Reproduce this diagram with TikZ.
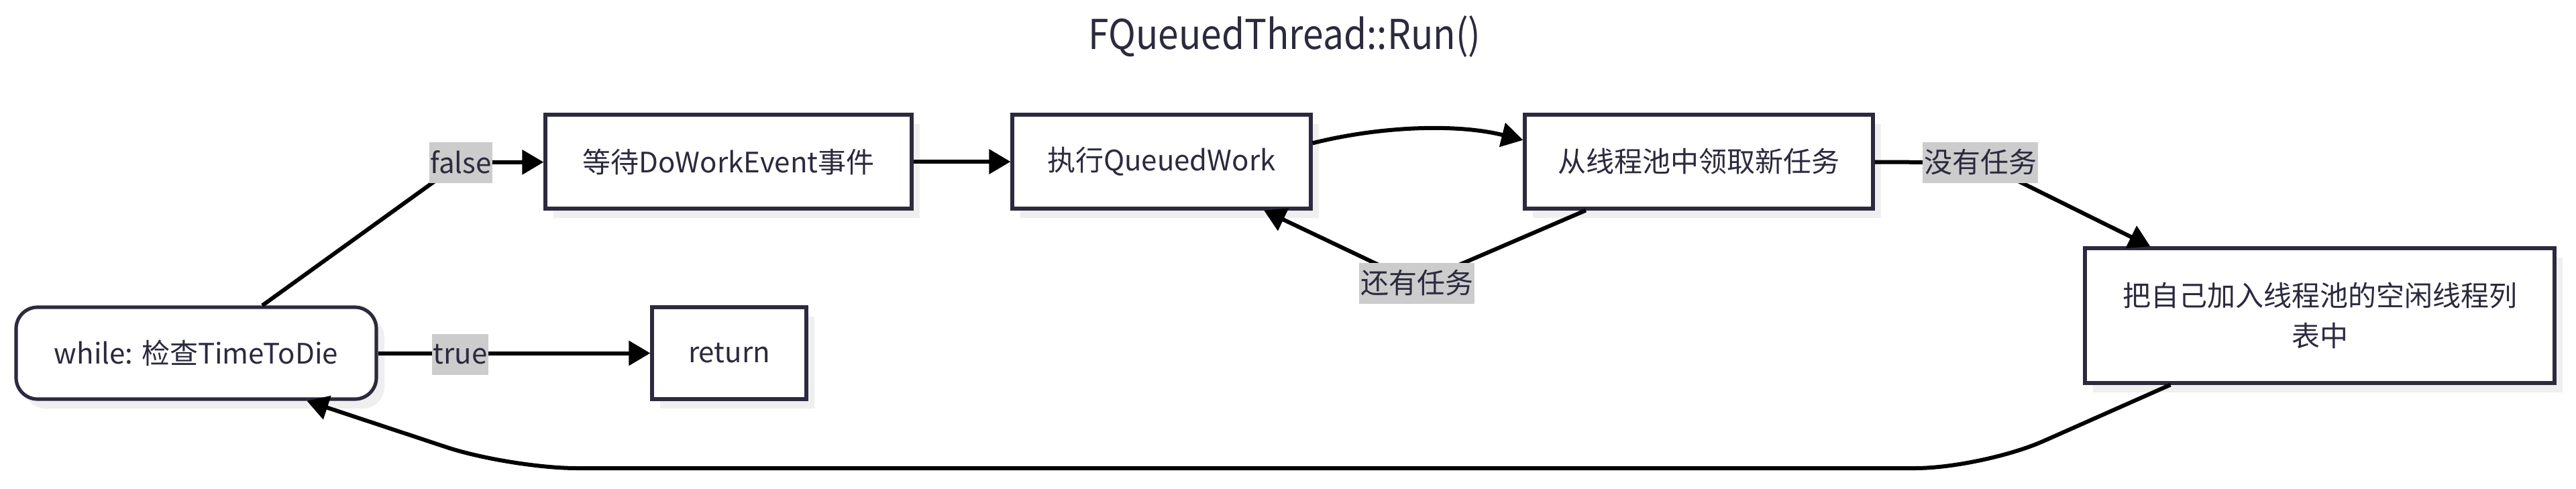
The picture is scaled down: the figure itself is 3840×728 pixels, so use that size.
\documentclass[tikz,border=0pt]{standalone}
\usepackage{fontspec}
\setmainfont{Noto Sans CJK SC}
\newfontfamily\titlefont[FakeStretch=0.9]{Noto Sans CJK SC}
\usetikzlibrary{arrows.meta,shadows,calc}
\definecolor{ink}{HTML}{2B2A3E}
\definecolor{lblgray}{HTML}{CCCCCC}
\definecolor{shade}{HTML}{EFEFEF}
\begin{document}
\begin{tikzpicture}[x=0.25pt,y=-0.25pt,
  nodefont/.style={font=\fontsize{10.5pt}{15pt}\selectfont},
  box/.style={draw=ink, line width=1.3pt, fill=white, text=ink, nodefont, inner sep=0pt,
    drop shadow={shadow xshift=3pt, shadow yshift=-3.5pt, fill=shade, opacity=1}},
  lbl/.style={fill=lblgray, text=ink, nodefont, inner xsep=0.4pt, inner ysep=0pt, minimum height=15.25pt},
  plainline/.style={line width=1.5pt, black},
  conn/.style={plainline, -{Triangle[length=8pt,width=9pt]}}]
\useasboundingbox[fill=white] (0,0) rectangle (3840,728);
\node[font=\titlefont\fontsize{15.3pt}{18pt}\selectfont, text=ink] (title) at (1915,54) {FQueuedThread::Run()};
\node[box, rounded corners=8pt, minimum width=134.25pt, minimum height=34.25pt] (while) at (292.5,526.5) {while: 检查TimeToDie};
\node[box, minimum width=57.5pt, minimum height=34.25pt] (ret) at (1087,526.5) {return};
\node[box, minimum width=136.5pt, minimum height=35pt] (wait) at (1086,241) {等待DoWorkEvent事件};
\node[box, minimum width=111.25pt, minimum height=35pt] (exec) at (1731.5,241) {执行QueuedWork};
\node[box, minimum width=129.75pt, minimum height=35pt] (pool) at (2532.5,241) {从线程池中领取新任务};
\node[box, minimum width=175pt, minimum height=50.25pt, align=center] (idle) at (3458,470.5) {把自己加入线程池的空闲线程列\\表中};
% label positions
\coordinate (cf) at (687,242);
\coordinate (ct) at (686,528);
\coordinate (cmore) at (2112,422);
\coordinate (cnone) at (2952,242);
\coordinate (bendr) at (2955,698);
\coordinate (bendl) at (760,698);
% connectors
\draw[conn] (while) -- (cf) -- (wait);
\draw[conn] (while) -- (ret);
\draw[conn] (wait) -- (exec);
\draw[conn] (exec.7) .. controls +(100,-25) and +(-100,-25) .. (pool.173);
\draw[conn] (pool) -- (cmore) -- (exec);
\draw[conn] (pool) -- (cnone) -- ($(idle.north west)+(100,0)$);
\draw[conn, rounded corners=25pt] ($(idle.south west)+(130,0)$) -- (bendr) -- (bendl) -- ($(while.south west)+(436,0)$);
% labels
\node[lbl] (lf) at (cf) {false};
\node[lbl] (lt) at (ct) {true};
\node[lbl] (lmore) at (cmore) {还有任务};
\node[lbl] (lnone) at (cnone) {没有任务};
\end{tikzpicture}
\end{document}
